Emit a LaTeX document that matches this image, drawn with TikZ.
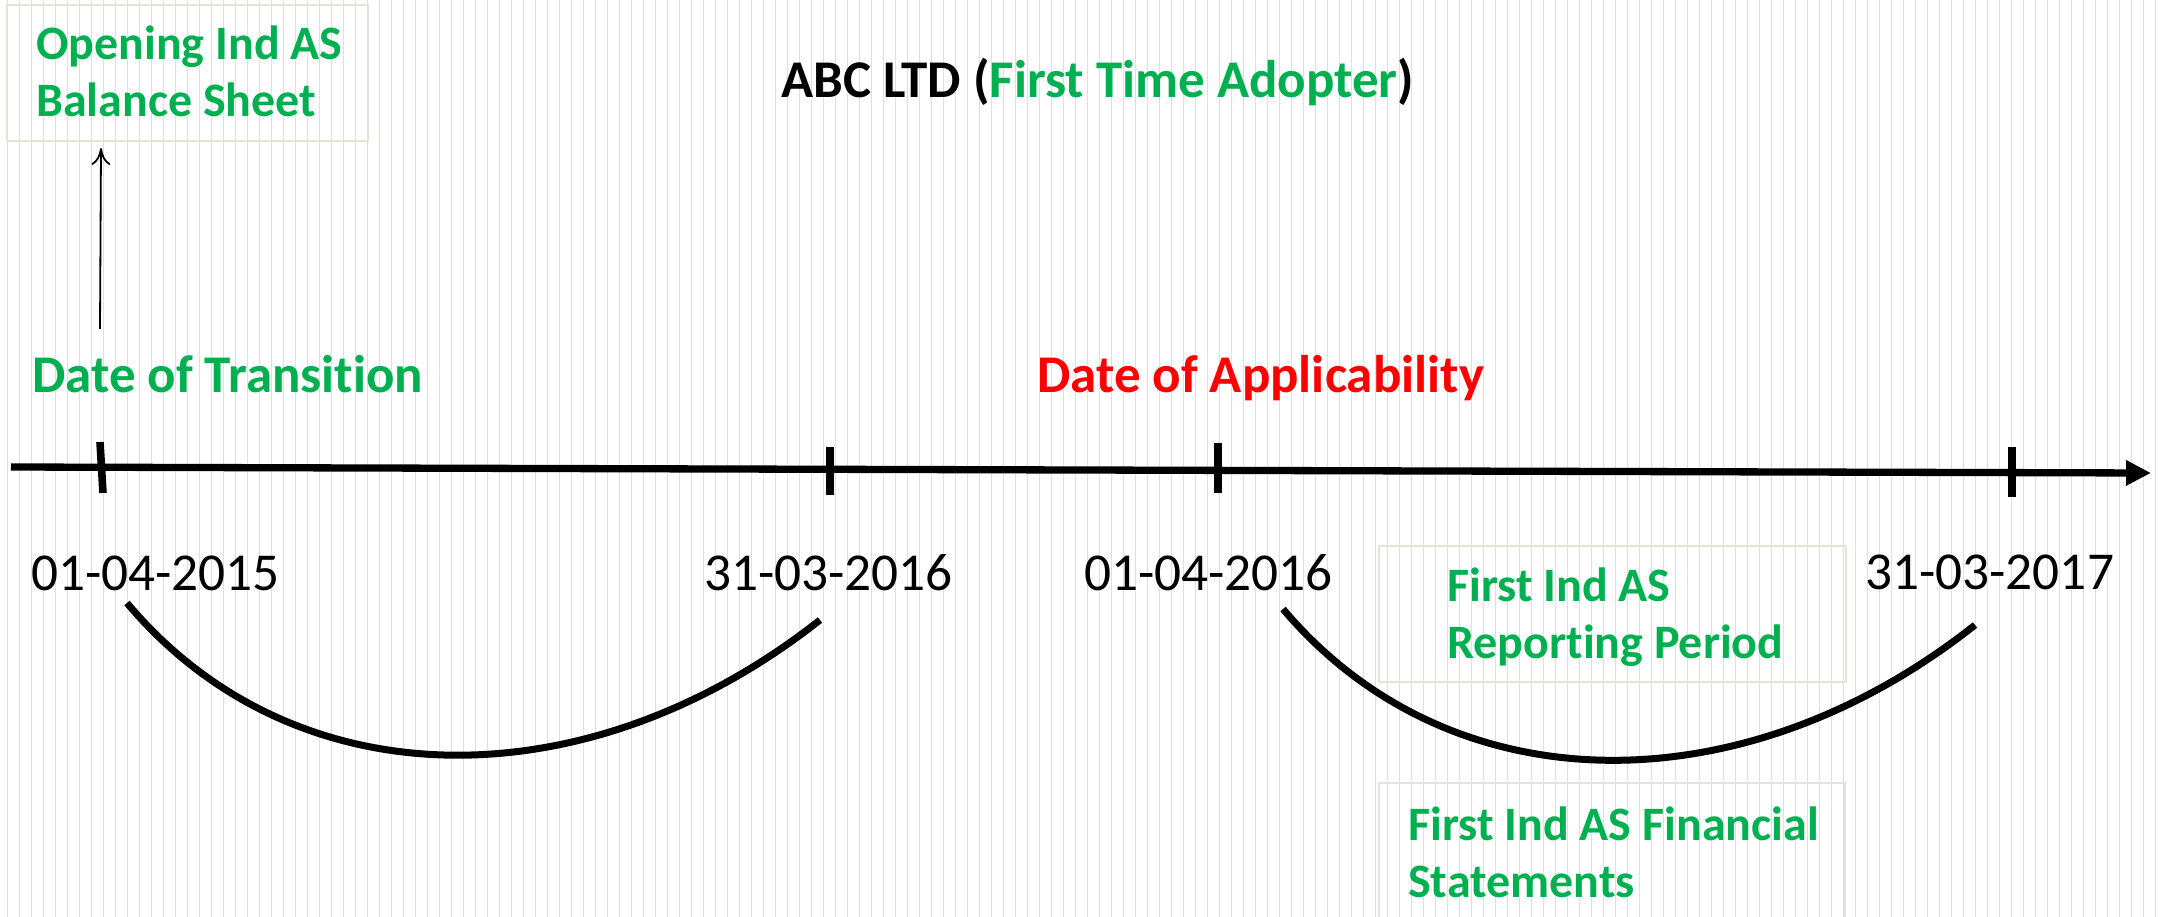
\documentclass[tikz,border=0pt]{standalone}
\usepackage{fontspec}
\setmainfont{Carlito}[Ligatures=NoCommon]
\usetikzlibrary{arrows.meta}
\definecolor{ogreen}{HTML}{00B050}
\definecolor{ored}{HTML}{FF0000}
\definecolor{stripecol}{HTML}{DFDFDF}
\definecolor{boxline}{HTML}{E6E2DA}
\begin{document}
\begin{tikzpicture}[x=1pt,y=-1pt,
  stripe/.style={stripecol, line width=1.6pt},
  datelbl/.style={inner sep=0pt, anchor=base west, font=\fontsize{53.3}{60}\selectfont},
  headlbl/.style={inner sep=0pt, anchor=base west, font=\fontsize{53}{60}\selectfont\bfseries},
  boxtxt/.style={inner sep=0pt, anchor=base west, align=left, text=ogreen, font=\fontsize{48}{57}\selectfont\bfseries},
  boxframe/.style={draw=boxline, line width=2pt},
  axis/.style={line width=7.3pt, -{Triangle[length=25pt,width=24pt]}},
  tickmark/.style={line width=7.6pt},
  arcline/.style={line width=7pt},
  uparrow/.style={line width=1.8pt, -{To[length=17pt,width=19pt]}}
]
\useasboundingbox (0,0) rectangle (2162,917);
\fill[white] (0,0) rectangle (2162,917);
\clip (0,0) rectangle (2162,917);
\foreach \i in {0,...,179} \draw[stripe] ({7.3+12*\i},0) -- ++(0,917);

% title
\node[headlbl] (title) at (781,98) {ABC LTD (\textcolor{ogreen}{First Time Adopter})};

% boxes (anchor base = baseline of last line)
\draw[boxframe] (7,5) rectangle (368,141);
\node[boxtxt] (opening) at (36,117) {Opening Ind AS\\Balance Sheet};
\draw[boxframe] (1379,546) rectangle (1846,682);
\node[boxtxt] (reporting) at (1447,658) {First Ind AS\\Reporting Period};
\draw[boxframe] (1379,783) rectangle (1845,940);
\node[boxtxt] (financial) at (1408,897) {First Ind AS Financial\\Statements};

% headings
\node[headlbl, text=ogreen] (transition) at (32,392) {Date of Transition};
\node[headlbl, text=ored] (applic) at (1037,392) {Date of Applicability};

% axis
\coordinate (axstart) at (11,467);
\coordinate (axend) at (2151,473);
\draw[axis] (axstart) -- (axend);
\coordinate (t1a) at (100,442); \coordinate (t1b) at (103,493);
\coordinate (t2a) at (830,447); \coordinate (t2b) at (830,495);
\coordinate (t3a) at (1218,443); \coordinate (t3b) at (1218,493);
\coordinate (t4a) at (2012,447); \coordinate (t4b) at (2012,497);
\draw[tickmark] (t1a) -- (t1b);
\draw[tickmark] (t2a) -- (t2b);
\draw[tickmark] (t3a) -- (t3b);
\draw[tickmark] (t4a) -- (t4b);

% up arrow
\coordinate (upfoot) at (100,329);
\coordinate (uptip) at (101,148);
\draw[uparrow] (upfoot) -- (uptip);

% dates
\node[datelbl] (d1) at (31,590) {01-04-2015};
\node[datelbl] (d2) at (704,590) {31-03-2016};
\node[datelbl] (d3) at (1084,590) {01-04-2016};
\node[datelbl] (d4) at (1865,589) {31-03-2017};

% arcs
\coordinate (a1s) at (127,603); \coordinate (a1e) at (820,620);
\coordinate (a2s) at (1283,609); \coordinate (a2e) at (1975,625);
\draw[arcline] (a1s) .. controls (295,803) and (588,803) .. (a1e);
\draw[arcline] (a2s) .. controls (1451,808) and (1744,808) .. (a2e);
\end{tikzpicture}
\end{document}
